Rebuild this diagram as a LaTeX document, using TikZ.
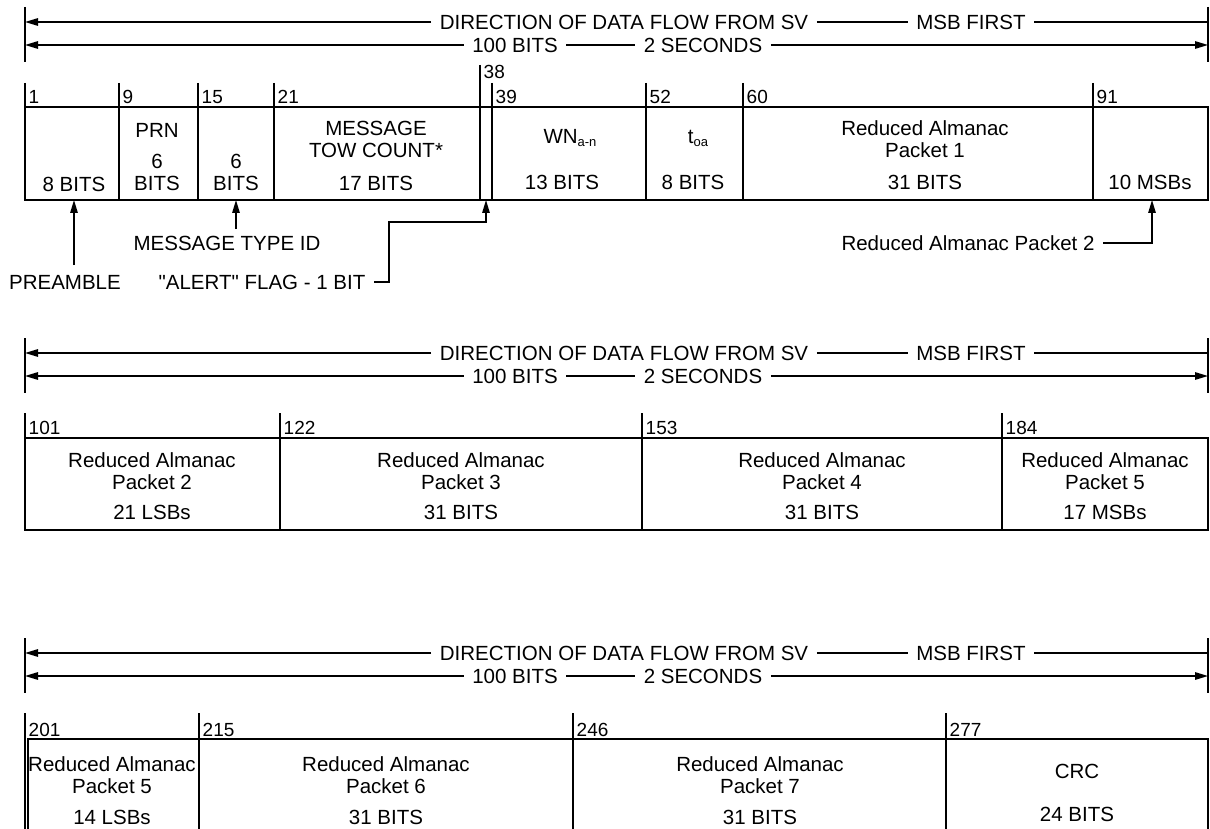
\documentclass[tikz,border=0pt]{standalone}
\usepackage{fontspec}
\setmainfont{Liberation Sans}[Ligatures=TeXOff]
\usetikzlibrary{arrows.meta}
\newcommand{\lowtxt}[1]{\raisebox{-3pt}{\fontsize{13}{13}\selectfont #1}}

\begin{document}
\begin{tikzpicture}[x=1pt,y=-1pt,line width=1.4pt]
    \tikzstyle{txt}=[inner xsep=8pt,inner ysep=0pt,font=\fontsize{20.5}{22}\selectfont,align=center]
    \tikzstyle{num}=[inner sep=0pt,anchor=west,font=\fontsize{19}{19}\selectfont]
    \tikzstyle{tip}=[-{Triangle[length=13pt,width=7.5pt]}]
    \useasboundingbox (0,0) rectangle (1210,829);

    % header of each row
    \foreach \r/\y in {a/22, b/353, c/653} {
        \node[txt] (dir-\r) at (624,\y) {DIRECTION OF DATA FLOW FROM SV};
        \node[txt] (msb-\r) at (971,\y) {MSB FIRST};
        \node[txt] (bits-\r) at (515,\y+23) {100 BITS};
        \node[txt] (sec-\r) at (703,\y+23) {2 SECONDS};
        \coordinate (lt-\r) at (25,\y);
        \coordinate (rt-\r) at (1208,\y);
        \coordinate (lb-\r) at (25,\y+23);
        \coordinate (rb-\r) at (1208,\y+23);
        \draw (25,\y-15) -- (25,\y+40);
        \draw (1208,\y-15) -- (1208,\y+40);
        \draw[tip] (dir-\r) -- (lt-\r);
        \draw (dir-\r) -- (msb-\r);
        \draw (msb-\r) -- (rt-\r);
        \draw[tip] (bits-\r) -- (lb-\r);
        \draw (bits-\r) -- (sec-\r);
        \draw[tip] (sec-\r) -- (rb-\r);
    }

    % first row: bits 1 - 100
    \foreach \x/\num in {25/1, 119/9, 198/15, 274/21, 492/39, 646/52, 743/60, 1093/91} {
        \draw (\x,83) -- (\x,200);
        \node[num] (n-\num) at (\x+3,97) {\num};
    }
    \draw (480,65) -- (480,200);
    \node[num] (n-38) at (483,72) {38};
    \draw (25,107) rectangle (1208,200);

    \node[txt] (f-pre) at (74,184) {8 BITS};
    \node[txt] (f-prn) at (157,130) {PRN};
    \node[txt] (f-prn-b) at (157,172) {6\\BITS};
    \node[txt] (f-type) at (236,172) {6\\BITS};
    \node[txt] (f-tow) at (376,139) {MESSAGE\\TOW COUNT*};
    \node[txt] (f-tow-b) at (376,183) {17 BITS};
    \node[txt] (f-wn) at (570,138) {WN\lowtxt{a-n}};
    \node[txt] (f-wn-b) at (562,182) {13 BITS};
    \node[txt] (f-toa) at (698,138) {t\lowtxt{oa}};
    \node[txt] (f-toa-b) at (693,182) {8 BITS};
    \node[txt] (f-ra1) at (925,139) {Reduced Almanac\\Packet 1};
    \node[txt] (f-ra1-b) at (925,182) {31 BITS};
    \node[txt] (f-ra2) at (1150,182) {10 MSBs};

    \node[txt] (pre) at (65,282) {PREAMBLE};
    \node[txt] (type) at (227,243) {MESSAGE TYPE ID};
    \node[txt] (alert) at (262,282) {"ALERT" FLAG - 1 BIT};
    \node[txt] (ra2) at (968,243) {Reduced Almanac Packet 2};
    \coordinate (s-pre) at (74,200);
    \coordinate (s-type) at (236,200);
    \coordinate (s-alert) at (486,200);
    \coordinate (s-ra2) at (1152,200);
    \draw[tip] ([yshift=9pt]pre.north -| s-pre) -- (s-pre);
    \draw[tip] ([yshift=6pt]type.north -| s-type) -- (s-type);
    \draw[tip] (alert.east) -- ++(15,0) |- ([yshift=-22pt]s-alert) -- (s-alert);
    \draw[tip] (ra2.east) -| (s-ra2);

    % second row: bits 101 - 200
    \foreach \x/\num in {25/101, 280/122, 642/153, 1002/184} {
        \draw (\x,413) -- (\x,530);
        \node[num] (n-\num) at (\x+3,428) {\num};
    }
    \draw (25,438) rectangle (1208,530);
    \foreach \i/\x/\b in {2/152/21 LSBs, 3/461/31 BITS, 4/822/31 BITS, 5/1105/17 MSBs} {
        \node[txt] (p2-\i) at (\x,471) {Reduced Almanac\\Packet \i};
        \node[txt] (p2-\i-b) at (\x,512) {\b};
    }

    % third row: bits 201 - 300
    \foreach \x/\num in {25/201, 199/215, 573/246, 946/277} {
        \draw (\x,713) -- (\x,835);
        \node[num] (n-\num) at (\x+3,730) {\num};
    }
    \draw (28,835) -- (28,739) -- (1208,739) -- (1208,835);
    \foreach \i/\x/\b in {5/112/14 LSBs, 6/386/31 BITS, 7/760/31 BITS} {
        \node[txt] (p3-\i) at (\x,775) {Reduced Almanac\\Packet \i};
        \node[txt] (p3-\i-b) at (\x,817) {\b};
    }
    \node[txt] (crc) at (1077,771) {CRC};
    \node[txt] (crc-b) at (1077,814) {24 BITS};
\end{tikzpicture}
\end{document}
